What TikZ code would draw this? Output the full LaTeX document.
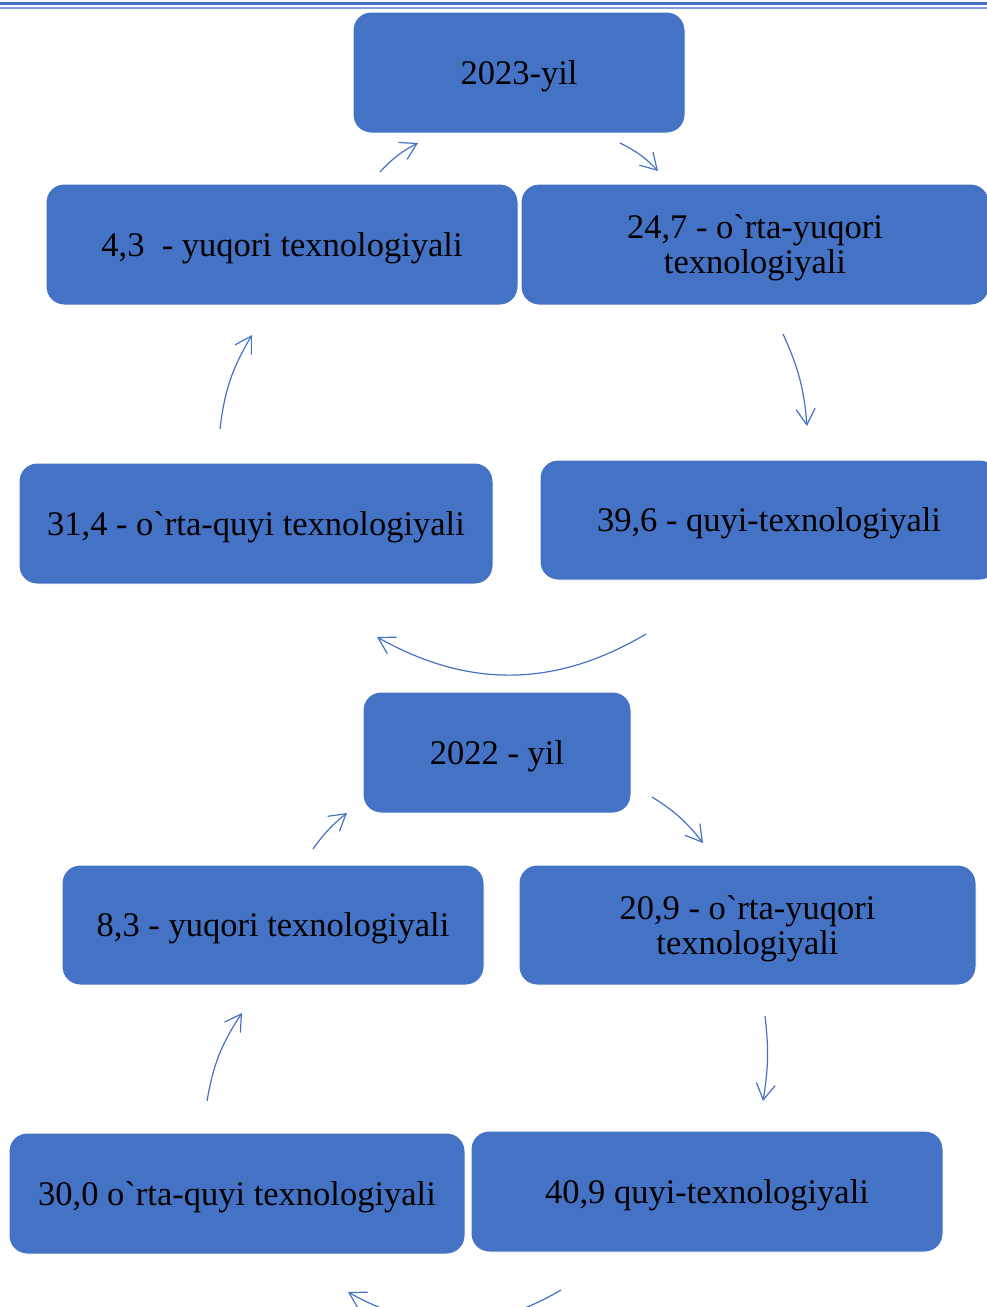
\documentclass[tikz,border=0pt]{standalone}
\usepackage{fontspec}
\setmainfont{Liberation Serif}[Ligatures=TeXOff]
\usetikzlibrary{arrows.meta}
\definecolor{accent}{HTML}{4472C4}
\definecolor{accentlight}{HTML}{7F9FDA}
\begin{document}
\begin{tikzpicture}[x=1pt,y=-1pt,
  box/.style={draw=white, line width=1pt, fill=accent, rounded corners=18pt,
    minimum width=#1, minimum height=121pt, inner sep=0pt, align=center,
    text height=31pt, text=black, font=\fontsize{34.5}{35}\selectfont},
  twoline/.style={text height=66pt},
  cyc/.style={draw=accent, line width=1.2pt, -{Straight Barb[length=16pt,width=19pt]}},
  rule/.style={draw=accent, line width=3.3pt},
  thinrule/.style={draw=accentlight, line width=1.8pt}]
\useasboundingbox (0,0) rectangle (987,1307);
% top double rule
\draw[rule] (0,3.3) -- (987,3.3);
\draw[thinrule] (0,8.3) -- (987,8.3);
% 2023
\node[box=332pt] (y23) at (519,72.5) {2023-yil};
\node[box=472pt] (h23) at (282,244.5) {4,3~ - yuqori texnologiyali};
\node[box=468pt, twoline] (mh23) at (755,244.5) {24,7 - o`rta-yuqori\\texnologiyali};
\node[box=458pt, minimum height=120pt] (l23) at (769,520) {39,6 - quyi-texnologiyali};
\node[box=474pt] (ml23) at (256,523.5) {31,4 - o`rta-quyi texnologiyali};
% 2022
\node[box=268pt] (y22) at (497,752.5) {2022 - yil};
\node[box=422pt, minimum height=120pt] (h22) at (273,925) {8,3 - yuqori texnologiyali};
\node[box=457pt, minimum height=120pt, twoline] (mh22) at (747.5,925) {20,9 - o`rta-yuqori\\texnologiyali};
\node[box=456pt] (ml22) at (237,1193.5) {30,0 o`rta-quyi texnologiyali};
\node[box=472pt] (l22) at (707,1191.5) {40,9 quyi-texnologiyali};
% arrow end points
\coordinate (a1s) at (380,172); \coordinate (a1e) at (418,143);
\coordinate (a2s) at (620,143); \coordinate (a2e) at (658,171);
\coordinate (a3s) at (783,334); \coordinate (a3e) at (807,426);
\coordinate (a4s) at (646,634); \coordinate (a4e) at (377,637);
\coordinate (a5s) at (220,429); \coordinate (a5e) at (252,335);
\coordinate (b1s) at (313,849); \coordinate (b1e) at (347,813);
\coordinate (b2s) at (652,797); \coordinate (b2e) at (703,843);
\coordinate (b3s) at (765,1016); \coordinate (b3e) at (763,1101);
\coordinate (b4s) at (561,1290); \coordinate (b4e) at (348,1292);
\coordinate (b5s) at (207,1101); \coordinate (b5e) at (242,1013);
% arrows
\draw[cyc] (a1s) to[bend left=10] (a1e);
\draw[cyc] (a2s) to[bend left=10] (a2e);
\draw[cyc] (a3s) to[bend left=10] (a3e);
\draw[cyc] (a4s) to[bend left=30] (a4e);
\draw[cyc] (a5s) to[bend left=12] (a5e);
\draw[cyc] (b1s) to[bend left=8] (b1e);
\draw[cyc] (b2s) to[bend left=10] (b2e);
\draw[cyc] (b3s) to[bend left=8] (b3e);
\draw[cyc] (b4s) to[bend left=30] (b4e);
\draw[cyc] (b5s) to[bend left=12] (b5e);
\end{tikzpicture}
\end{document}
